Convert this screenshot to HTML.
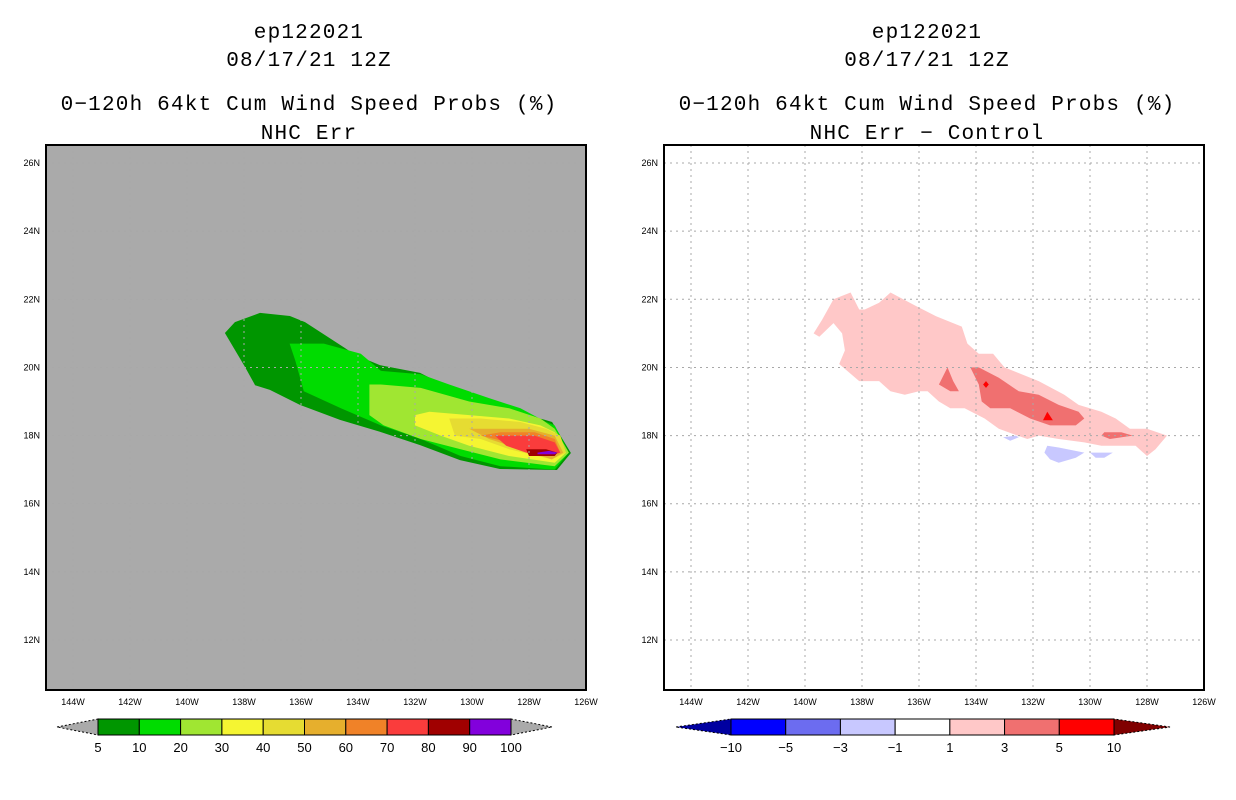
<!DOCTYPE html>
<html><head><meta charset="utf-8">
<style>
body{margin:0;background:#fff;}
svg{display:block;font-family:"Liberation Sans",sans-serif;}
.tt{font-family:"Liberation Mono",monospace;font-size:21px;letter-spacing:1.2px;}
</style></head>
<body>
<svg id="chart" width="1236" height="800" viewBox="0 0 1236 800" xmlns="http://www.w3.org/2000/svg">
<rect width="1236" height="800" fill="#fff"/>
<g id="titles">
<text class="tt" x="309" y="38" text-anchor="middle">ep122021</text>
<text class="tt" x="309" y="66" text-anchor="middle">08/17/21 12Z</text>
<text class="tt" x="309" y="110" text-anchor="middle">0−120h 64kt Cum Wind Speed Probs (%)</text>
<text class="tt" x="309" y="139" text-anchor="middle">NHC Err</text>
<text class="tt" x="927" y="38" text-anchor="middle">ep122021</text>
<text class="tt" x="927" y="66" text-anchor="middle">08/17/21 12Z</text>
<text class="tt" x="927" y="110" text-anchor="middle">0−120h 64kt Cum Wind Speed Probs (%)</text>
<text class="tt" x="927" y="139" text-anchor="middle">NHC Err − Control</text>
</g>
<g id="left"></g>
<g id="right"></g>
</svg>
<script>
// data: contour polygons as [lonW, latN] pairs
const lonTicks = [144,142,140,138,136,134,132,130,128,126];
const latTicks = [12,14,16,18,20,22,24,26];
const leftLevels = ["5","10","20","30","40","50","60","70","80","90","100"];
const leftColors = ["#009600","#00dc00","#a0e632","#f5f532","#e6dc32","#e6af2d","#f08228","#fa3c3c","#a00000","#8200dc"];
const rightLevels = ["−10","−5","−3","−1","1","3","5","10"];
const rightColors = ["#0000ff","#6c6cf0","#c8c8ff","#ffffff","#ffc8c8","#f07070","#ff0000"];
const p5 = [[138.67,21.01],[138.32,21.33],[137.44,21.6],[136.39,21.51],[135.86,21.33],[134.46,20.57],[134.11,20.37],[133.23,20.07],[131.82,19.84],[131.12,19.54],[130.07,19.25],[129.02,18.9],[128.32,18.66],[127.44,18.46],[127.19,18.4],[126.53,17.49],[127.02,16.99],[129.02,17.02],[130.42,17.28],[131.82,17.72],[133.23,18.11],[134.63,18.46],[136.04,18.9],[137.09,19.34],[137.61,19.48],[137.96,20.01],[138.42,20.66]];
const p10 = [[136.4,20.7],[136.0,20.7],[135.2,20.7],[133.9,20.4],[133.2,19.9],[131.8,19.8],[130.8,19.5],[129.4,19.1],[128.3,18.8],[127.4,18.4],[127.1,18.3],[126.6,17.5],[127.1,17.0],[129.0,17.1],[130.4,17.4],[131.8,17.9],[133.2,18.3],[134.6,18.8],[135.9,19.3],[136.0,19.6],[136.2,20.2]];
const p20 = [[133.6,19.5],[133.2,19.5],[131.8,19.4],[130.1,19.0],[128.7,18.8],[127.6,18.5],[127.1,18.2],[126.6,17.5],[127.1,17.1],[129.0,17.3],[130.4,17.6],[131.8,17.9],[133.1,18.3],[133.6,18.6],[133.6,19.0]];
const p30 = [[132.0,18.6],[131.5,18.7],[130.1,18.6],[128.7,18.5],[127.6,18.3],[127.1,18.1],[126.7,17.5],[127.1,17.2],[128.7,17.4],[130.1,17.7],[131.1,18.0],[132.0,18.3]];
const p40 = [[130.8,18.5],[129.7,18.5],[128.3,18.4],[127.4,18.2],[126.9,18.0],[126.7,17.5],[127.2,17.3],[128.7,17.6],[129.7,17.9],[130.6,18.0]];
const p50 = [[130.1,18.2],[129.0,18.2],[128.0,18.2],[127.1,18.0],[126.8,17.5],[127.2,17.3],[128.3,17.6],[129.4,17.9]];
const p60 = [[129.7,18.0],[129.0,18.1],[127.8,18.1],[127.1,17.9],[126.9,17.5],[127.3,17.4],[128.3,17.7],[129.2,17.9]];
const p70 = [[129.2,18.0],[128.7,18.0],[127.8,18.0],[127.1,17.8],[126.9,17.5],[127.3,17.4],[128.1,17.5],[128.8,17.7]];
const p80 = [[128.1,17.6],[127.4,17.6],[127.0,17.5],[127.1,17.4],[128.0,17.4]];
const p90 = [[127.7,17.5],[127.3,17.55],[127.0,17.5],[127.1,17.45],[127.7,17.45]];
const leftPolys = [[p5,0],[p10,1],[p20,2],[p30,3],[p40,4],[p50,5],[p60,6],[p70,7],[p80,8],[p90,9]];
const d1 = [[139.7,21.0],[139.4,21.4],[139.0,22.0],[138.4,22.2],[138.1,21.7],[137.9,21.7],[137.4,21.9],[137.0,22.2],[136.1,21.8],[135.4,21.5],[134.5,21.2],[134.3,20.7],[133.9,20.4],[133.4,20.4],[133.0,20.0],[131.8,19.6],[130.9,19.2],[130.4,18.9],[129.6,18.7],[129.1,18.5],[128.6,18.2],[128.0,18.2],[127.3,18.0],[127.7,17.6],[128.0,17.4],[128.4,17.7],[129.6,17.7],[130.2,17.8],[131.1,17.9],[131.8,18.0],[132.2,17.9],[133.2,18.2],[133.7,18.5],[134.4,18.8],[134.9,18.8],[135.3,19.0],[135.7,19.3],[136.0,19.3],[136.5,19.2],[137.0,19.3],[137.4,19.6],[138.1,19.6],[138.8,20.1],[138.6,20.5],[138.7,21.0],[139.0,21.3],[139.5,20.9]];
const d3a = [[134.2,20.0],[133.9,20.0],[133.2,19.7],[132.5,19.3],[131.8,19.2],[131.1,18.9],[130.4,18.7],[130.2,18.5],[130.5,18.3],[131.4,18.3],[132.1,18.5],[132.8,18.8],[133.5,18.8],[133.8,19.0],[133.9,19.5]];
const d3b = [[135.0,20.0],[134.8,19.6],[134.6,19.3],[134.9,19.3],[135.3,19.5]];
const d3c = [[129.5,18.1],[128.9,18.1],[128.5,18.0],[129.3,17.9],[129.6,18.0]];
const d5a = [[133.65,19.6],[133.55,19.5],[133.65,19.4],[133.75,19.5]];
const d5b = [[131.5,18.7],[131.3,18.45],[131.65,18.45]];
const dm1a = [[133.05,17.95],[132.6,18.0],[132.5,17.95],[132.8,17.85]];
const dm1b = [[131.5,17.7],[131.1,17.65],[130.2,17.5],[130.5,17.35],[131.1,17.2],[131.4,17.3],[131.6,17.5]];
const dm1c = [[130.0,17.5],[129.2,17.5],[129.5,17.35],[129.8,17.35]];
const rightPolys = [[d1,4],[d3a,5],[d3b,5],[d3c,5],[d5a,6],[d5b,6],[dm1a,2],[dm1b,2],[dm1c,2]];

const NS="http://www.w3.org/2000/svg";
function mk(parent,tag,attrs){const e=document.createElementNS(NS,tag);for(const k in attrs)e.setAttribute(k,attrs[k]);parent.appendChild(e);return e;}
const PX=28.5, PY=34.07, TOP=145, BOT=690;
const bgTri={left:['#aaaaaa','#aaaaaa'],right:['#0000a0','#800000']};
function panel(gid,x0,bg,polys,colors,levels,cbLeft,cbRight,cbL,cbR,name){
  const g=document.getElementById(gid);
  const xs=lon=>x0+540-(lon-126)*PX;
  const ys=lat=>640-(lat-12)*PY;
  const bgR=mk(g,'rect',{x:x0,y:TOP,width:540,height:BOT-TOP,fill:bg});
  
  
  polys.forEach(([pts,ci],i)=>{
    const p=mk(g,'polygon',{points:pts.map(q=>xs(q[0]).toFixed(1)+','+ys(q[1]).toFixed(1)).join(' '),fill:colors[ci]});
    
    
  });
  lonTicks.forEach(l=>{
    const x=xs(l);
    if(l>126&&l<145){const ln=mk(g,'line',{x1:x,y1:TOP,x2:x,y2:BOT,stroke:'#a8a8a8','stroke-dasharray':'2,4'});
    }
    const t=mk(g,'text',{x:x,y:BOT+15,'font-size':9,'text-anchor':'middle'});t.textContent=l+'W';
    
  });
  latTicks.forEach(l=>{
    const y=ys(l);
    const ln=mk(g,'line',{x1:x0,y1:y,x2:x0+540,y2:y,stroke:'#a8a8a8','stroke-dasharray':'2,4'});
    
    const t=mk(g,'text',{x:x0-6,y:y+3,'font-size':9,'text-anchor':'end'});t.textContent=l+'N';
    
  });
  const fr=mk(g,'rect',{x:x0,y:TOP,width:540,height:BOT-TOP,fill:'none',stroke:'#000','stroke-width':2});
  
  const n=colors.length, bw=(cbR-cbL)/n, y1=719, y2=735;
  const lt=mk(g,'polygon',{points:`${cbLeft},${(y1+y2)/2} ${cbL},${y1} ${cbL},${y2}`,fill:bgTri[gid][0],stroke:'#000','stroke-dasharray':'2,2'});
  
  const rt=mk(g,'polygon',{points:`${cbRight},${(y1+y2)/2} ${cbR},${y1} ${cbR},${y2}`,fill:bgTri[gid][1],stroke:'#000','stroke-dasharray':'2,2'});
  
  colors.forEach((c,i)=>{
    const r=mk(g,'rect',{x:cbL+i*bw,y:y1,width:bw,height:y2-y1,fill:c,stroke:'#000','stroke-width':1});
    
  });
  levels.forEach((lv,i)=>{
    const t=mk(g,'text',{x:cbL+i*bw,y:752,'font-size':13,'text-anchor':'middle'});t.textContent=lv;
    
  });
}
panel('left',46,'#aaaaaa',leftPolys,leftColors,leftLevels,57,552,98,511,'left');
panel('right',664,'#ffffff',rightPolys,rightColors,rightLevels,676,1170,731,1114,'right');
</script>
</body></html>
